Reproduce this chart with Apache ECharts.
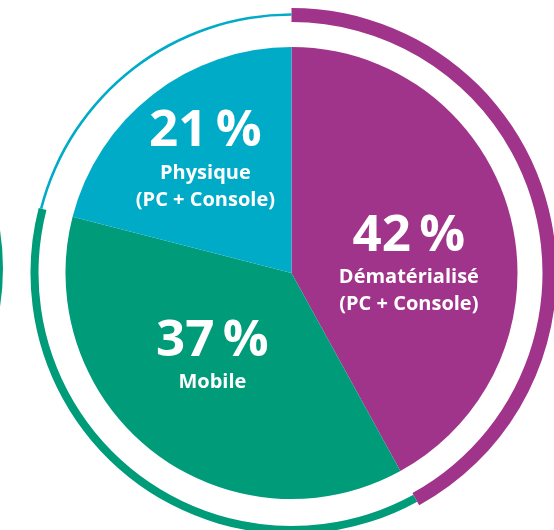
<!DOCTYPE html>
<html>
<head>
<meta charset="utf-8">
<script src="https://cdn.jsdelivr.net/npm/echarts@6/dist/echarts.min.js"></script>
<style>
  html, body { margin: 0; padding: 0; background: #fff; }
  #chart { width: 554px; height: 530px; }
</style>
</head>
<body>
<div id="chart"></div>
<script>
// Market split (%), clockwise from 12 o'clock
const categories = ["Dématérialisé\n(PC + Console)", "Mobile", "Physique\n(PC + Console)"];
const shares = [42, 37, 21];
const colors = ["#a0348a", "#009b78", "#00abc8"];

const chart = echarts.init(document.getElementById("chart"));

const center = [291.5, 273];
const font = "'Open Sans', 'Noto Sans', sans-serif";

// nudges for the inside labels (dx, dy)
const labelShift = [[5, 19], [-8, -10], [-15, -23]];

// outer ring: each category has its own thickness
const ringRadius = [[251, 265], [253, 261], [257.2, 259.8]];

const pieData = categories.map((name, i) => ({
  name,
  value: shares[i],
  itemStyle: { color: colors[i] },
}));

const ringSeries = categories.map((name, k) => ({
  type: "pie",
  silent: true,
  center,
  radius: ringRadius[k],
  startAngle: 90,
  label: { show: false },
  labelLine: { show: false },
  emphasis: { disabled: true },
  data: categories.map((n, i) => ({
    name: n,
    value: shares[i],
    itemStyle: { color: i === k ? colors[i] : "rgba(0,0,0,0)" },
  })),
}));

const option = {
  backgroundColor: "#fff",
  animation: false,
  series: [
    {
      type: "pie",
      center,
      radius: [0, 226],
      startAngle: 90,
      silent: true,
      itemStyle: { borderWidth: 0 },
      label: {
        show: true,
        position: "inside",
        color: "#fff",
        fontFamily: font,
        formatter: (p) =>
          `{pct|${p.value}\u2009%}\n` +
          p.name.split("\n").map((l) => `{name|${l}}`).join("\n"),
        rich: {
          pct: { fontSize: 51, fontWeight: 700, lineHeight: 56, color: "#fff", fontFamily: font },
          name: { fontSize: 20, fontWeight: 700, lineHeight: 27, color: "#fff", fontFamily: font },
        },
      },
      labelLayout: (params) => {
        const s = labelShift[params.dataIndex];
        return { dx: s[0], dy: s[1] };
      },
      labelLine: { show: false },
      data: pieData,
    },
    ...ringSeries,
    // edge of the neighbouring chart's ring, cut by the left border
    {
      type: "pie",
      silent: true,
      center: [-246, 268.5],
      radius: [241, 249],
      label: { show: false },
      labelLine: { show: false },
      data: [{ value: 1, itemStyle: { color: colors[1] } }],
    },
  ],
};

chart.setOption(option);
</script>
</body>
</html>
